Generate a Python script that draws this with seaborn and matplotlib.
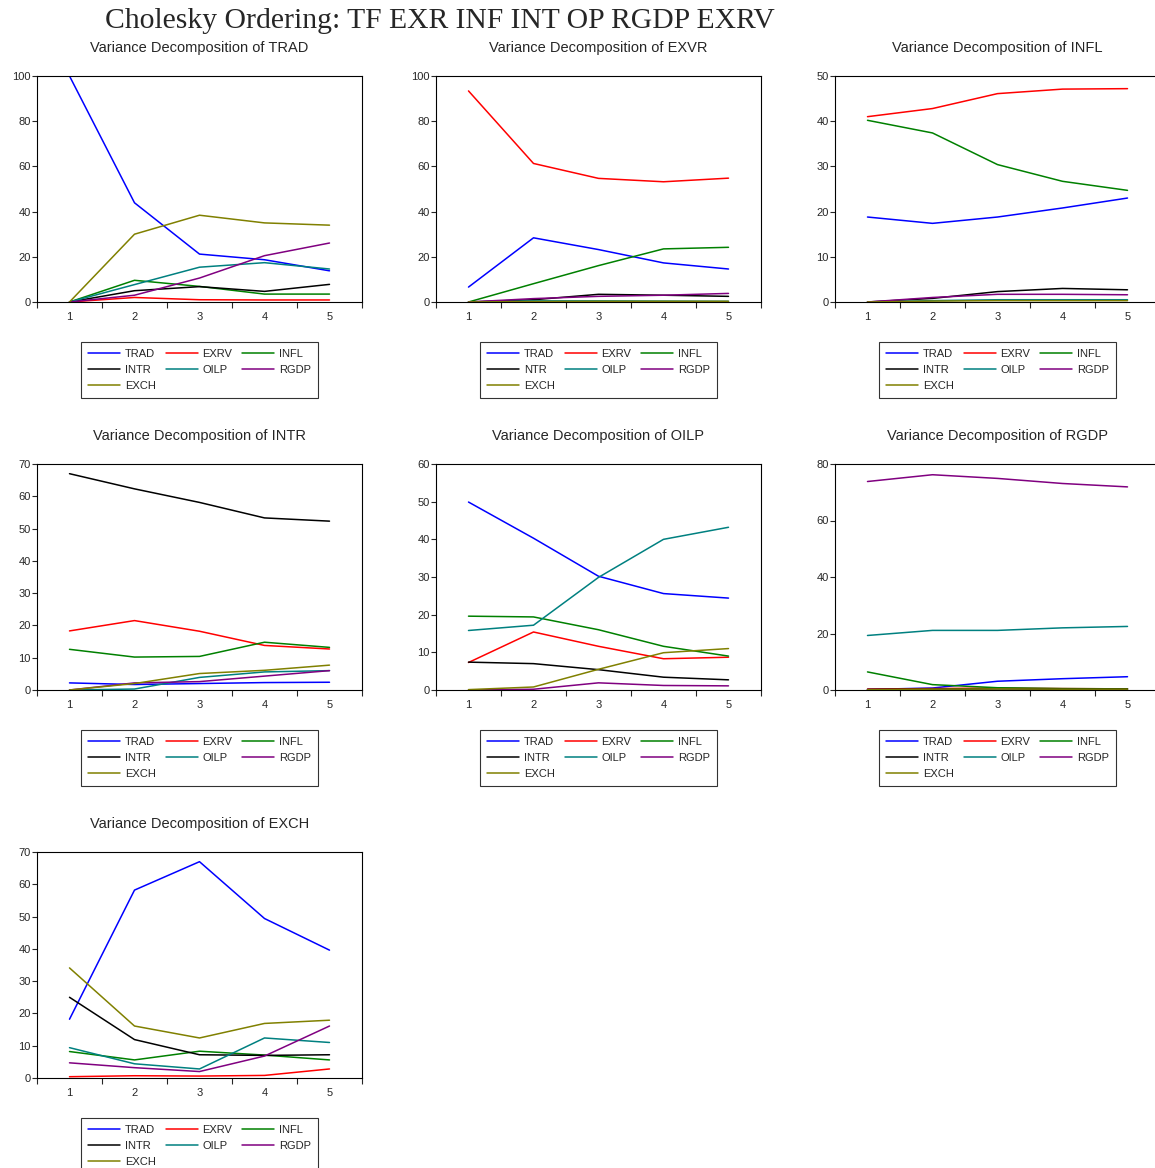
import numpy as np
import pandas as pd
import matplotlib
matplotlib.use("Agg")
import matplotlib.pyplot as plt
import seaborn as sns

## Data
periods = [1, 2, 3, 4, 5]
series_names = ["TRAD", "EXRV", "INFL", "INTR", "OILP", "RGDP", "EXCH"]
series_colors = ["#0000ff", "#ff0000", "#008000", "#000000", "#008080", "#800080", "#808000"]

# rows follow series_names: TRAD, EXRV, INFL, INTR, OILP, RGDP, EXCH
vd_trad = [
    [100.0, 43.9, 21.2, 18.7, 13.8],
    [0.0, 2.0, 1.0, 0.9, 0.9],
    [0.0, 9.6, 6.9, 3.5, 3.5],
    [0.0, 5.0, 6.8, 4.7, 7.8],
    [0.0, 7.7, 15.4, 17.4, 14.6],
    [0.0, 3.0, 10.6, 20.5, 26.1],
    [0.0, 30.0, 38.4, 35.0, 34.0],
]
vd_exvr = [
    [6.6, 28.4, 23.2, 17.3, 14.6],
    [93.4, 61.3, 54.7, 53.2, 54.8],
    [0.0, 8.1, 16.1, 23.5, 24.2],
    [0.0, 1.0, 3.4, 3.0, 2.5],
    [0.0, 0.5, 0.5, 0.4, 0.3],
    [0.0, 1.5, 2.5, 3.0, 3.8],
    [0.0, 0.2, 0.3, 0.3, 0.3],
]
vd_infl = [
    [18.8, 17.4, 18.8, 20.8, 23.0],
    [41.0, 42.8, 46.1, 47.1, 47.2],
    [40.2, 37.4, 30.4, 26.7, 24.7],
    [0.0, 0.8, 2.3, 3.0, 2.7],
    [0.0, 0.3, 0.5, 0.5, 0.5],
    [0.0, 1.0, 1.7, 1.7, 1.6],
    [0.0, 0.2, 0.3, 0.3, 0.3],
]
vd_intr = [
    [2.2, 1.7, 2.0, 2.3, 2.4],
    [18.3, 21.5, 18.2, 13.8, 12.7],
    [12.6, 10.2, 10.4, 14.8, 13.2],
    [67.0, 62.3, 58.1, 53.3, 52.3],
    [0.0, 0.3, 3.9, 5.6, 6.0],
    [0.0, 2.2, 2.6, 4.3, 6.0],
    [0.0, 2.0, 5.1, 6.1, 7.7],
]
vd_oilp = [
    [49.9, 40.3, 30.2, 25.6, 24.4],
    [7.3, 15.4, 11.6, 8.3, 8.7],
    [19.6, 19.4, 16.0, 11.6, 9.0],
    [7.4, 7.0, 5.4, 3.4, 2.7],
    [15.8, 17.2, 29.9, 40.0, 43.2],
    [0.0, 0.2, 1.9, 1.2, 1.1],
    [0.1, 0.8, 5.5, 9.9, 11.0],
]
vd_rgdp = [
    [0.2, 0.7, 3.1, 4.0, 4.7],
    [0.3, 0.5, 0.7, 0.5, 0.4],
    [6.4, 1.9, 0.8, 0.5, 0.4],
    [0.2, 0.3, 0.4, 0.3, 0.3],
    [19.3, 21.1, 21.1, 22.0, 22.5],
    [73.8, 76.2, 74.9, 73.1, 71.9],
    [0.1, 0.3, 0.4, 0.3, 0.3],
]
vd_exch = [
    [18.2, 58.2, 67.0, 49.4, 39.6],
    [0.4, 0.7, 0.6, 0.8, 2.8],
    [8.2, 5.6, 8.3, 7.1, 5.6],
    [25.0, 11.9, 7.2, 7.0, 7.2],
    [9.4, 4.4, 2.8, 12.4, 11.0],
    [4.7, 3.2, 2.0, 6.8, 16.1],
    [34.1, 16.1, 12.4, 16.9, 17.9],
]

panel_titles = ["TRAD", "EXVR", "INFL", "INTR", "OILP", "RGDP", "EXCH"]
panel_data = [vd_trad, vd_exvr, vd_infl, vd_intr, vd_oilp, vd_rgdp, vd_exch]
panel_ymax = [100, 100, 50, 70, 60, 80, 70]
panel_ystep = [20, 20, 10, 10, 10, 20, 10]

## Figure
sns.set_style("ticks")
plt.rcParams["font.family"] = ["Liberation Sans", "DejaVu Sans"]

W, H = 1155, 1168
fig = plt.figure(figsize=(W / 100, H / 100), dpi=100)
fig.text(440 / W, 1 - 21 / H, "Cholesky Ordering: TF EXR INF INT OP RGDP EXRV",
         family=["Liberation Serif", "DejaVu Serif"], fontsize=21.3, ha="center", va="center")

col_left = [37, 436, 835]
row_top = [76, 464, 852]
ax_w, ax_h = 325, 226
palette = dict(zip(series_names, series_colors))
legend_order = [0, 3, 6, 1, 4, 2, 5]  # column-major fill -> row-wise look

for k, (name, values) in enumerate(zip(panel_titles, panel_data)):
    r, c = divmod(k, 3)
    ax = fig.add_axes([col_left[c] / W, 1 - (row_top[r] + ax_h) / H, ax_w / W, ax_h / H])
    df = pd.DataFrame({
        "period": periods * len(series_names),
        "share": np.concatenate(values),
        "series": np.repeat(series_names, len(periods)),
    })
    sns.lineplot(data=df, x="period", y="share", hue="series", hue_order=series_names,
                 palette=palette, linewidth=1.1, ax=ax)

    ax.set_xlim(0.5, 5.5)
    ax.set_ylim(0, panel_ymax[k])
    ax.set_yticks(np.arange(0, panel_ymax[k] + 1, panel_ystep[k]))
    ax.set_xticks(np.arange(0.5, 6, 1))
    ax.set_xticklabels([])
    ax.set_xticks(periods, minor=True)
    ax.set_xticklabels([str(p) for p in periods], minor=True)
    ax.tick_params(axis="x", which="major", length=4, width=0.8, direction="out")
    ax.tick_params(axis="x", which="minor", length=0, pad=7.5, labelsize=8)
    ax.tick_params(axis="y", length=3.5, width=0.8, direction="out", pad=1, labelsize=8)
    ax.set_xlabel("")
    ax.set_ylabel("")
    for sp in ax.spines.values():
        sp.set_visible(True)
        sp.set_color("black")
        sp.set_linewidth(0.8)
    ax.set_title(f"Variance Decomposition of {name}", fontsize=10.5, pad=17)

    handles, labels = ax.get_legend_handles_labels()
    ax.get_legend().remove()
    if name == "EXVR":
        labels = ["NTR" if l == "INTR" else l for l in labels]
    leg = ax.legend([handles[i] for i in legend_order], [labels[i] for i in legend_order],
                    ncol=3, loc="upper center", bbox_to_anchor=(0.5, -0.177),
                    fontsize=8, frameon=True, fancybox=False, edgecolor="black",
                    handlelength=2.9, handletextpad=0.4, columnspacing=0.9,
                    labelspacing=0.55, borderpad=0.6, borderaxespad=0)
    leg.get_frame().set_linewidth(0.8)

fig.savefig("out.png", dpi=100)
